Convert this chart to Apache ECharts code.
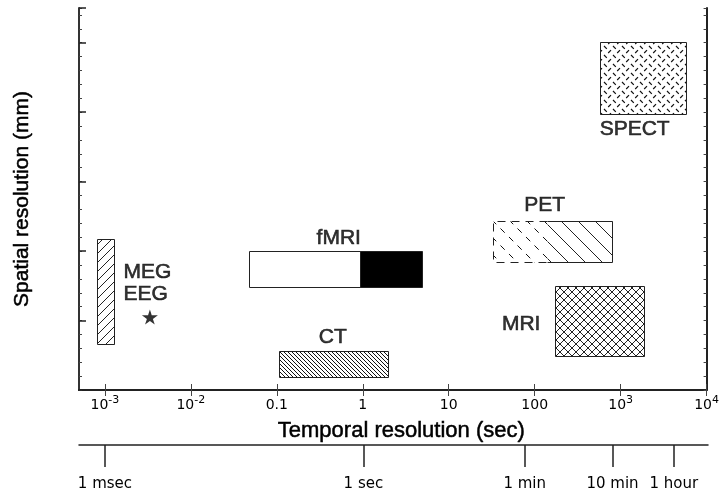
<!DOCTYPE html>
<html>
<head>
<meta charset="utf-8">
<script src="https://cdn.jsdelivr.net/npm/echarts@6/dist/echarts.min.js"></script>
<style>
html, body { margin: 0; padding: 0; background: #fff; }
#chart { width: 722px; height: 494px; }
</style>
</head>
<body>
<div id="chart"></div>
<script>
// 坐标轴刻度
const xTicks = [0.001, 0.01, 0.1, 1, 10, 100, 1000, 10000];
const xTickLabels = ['10{s|-3}', '10{s|-2}', '0.1', '1', '10', '100', '10{s|3}', '10{s|4}'];
const timeTicks = [0.001, 1, 74.5, 780, 4000];
const timeLabels = ['1 msec', '1 sec', '1 min', '10 min', '1 hour'];

// 各成像方法的范围（秒 / 空间分辨率）
const rectNames = ['MEG/EEG', 'fMRI', 'fMRI-BOLD', 'CT', 'PET-low', 'PET', 'MRI', 'SPECT'];
const rectX0 = [0.0008, 0.047, 0.92, 0.105, 32.5, 140, 174, 570];
const rectX1 = [0.00127, 0.92, 4.85, 1.95, 140, 785, 1866, 5800];
const rectY0 = [0.66, 1.49, 1.49, 0.19, 1.84, 1.84, 0.485, 3.97];
const rectY1 = [2.17, 2.0, 2.0, 0.56, 2.44, 2.44, 1.50, 5.01];

// 文字标注
const labelNames = ['MEG', 'EEG', 'fMRI', 'CT', 'PET', 'MRI', 'SPECT'];
const labelX = [0.00312, 0.00299, 0.526, 0.448, 131, 69.7, 1455];
const labelY = [1.69, 1.375, 2.18, 0.763, 2.66, 0.95, 3.75];

const starPoint = [0.00334, 1.05];

/**
 * 生成填充图案
 */
function makePattern(size, draw, color) {
    const c = document.createElement('canvas');
    c.width = size;
    c.height = size;
    const ctx = c.getContext('2d');
    ctx.fillStyle = '#fff';
    ctx.fillRect(0, 0, size, size);
    ctx.strokeStyle = color || '#000';
    ctx.lineWidth = 1;
    draw(ctx, size);
    return { image: c, repeat: 'repeat' };
}
function backLine(ctx, s) {
    ctx.beginPath();
    ctx.moveTo(-1, -1);
    ctx.lineTo(s + 1, s + 1);
    ctx.stroke();
}
function fwdLine(ctx, s) {
    ctx.beginPath();
    ctx.moveTo(-1, s + 1);
    ctx.lineTo(s + 1, -1);
    ctx.stroke();
}

const rectStyles = {
    'MEG/EEG': { fill: makePattern(9, fwdLine, '#222') },
    'fMRI': { fill: '#fff' },
    'fMRI-BOLD': { fill: '#000' },
    'CT': { fill: makePattern(4, backLine, '#111') },
    'PET-low': {
        fill: makePattern(17, function(ctx, s) { ctx.setLineDash([6, 6]); backLine(ctx, s); }, '#111'),
        edges: 'left'
    },
    'PET': { fill: makePattern(17, backLine, '#222'), edges: 'right' },
    'MRI': { fill: makePattern(8, function(ctx, s) { backLine(ctx, s); fwdLine(ctx, s); }, '#222') },
    'SPECT': {
        fill: makePattern(9, function(ctx) {
            ctx.lineWidth = 1.2;
            ctx.beginPath();
            ctx.moveTo(1, 1); ctx.lineTo(3.8, 3.8);
            ctx.moveTo(5.2, 8); ctx.lineTo(8, 5.2);
            ctx.stroke();
        }, '#111')
    }
};

function renderRect(params, api) {
    const name = rectNames[params.dataIndex];
    const st = rectStyles[name];
    const tl = api.coord([api.value(0), api.value(3)]);
    const br = api.coord([api.value(1), api.value(2)]);
    const x = Math.round(tl[0]) + 0.5, y = Math.round(tl[1]) + 0.5;
    const w = Math.round(br[0]) - Math.round(tl[0]);
    const h = Math.round(br[1]) - Math.round(tl[1]);
    const children = [{
        type: 'rect',
        shape: { x: x, y: y, width: w, height: h },
        style: { fill: st.fill, stroke: st.edges ? null : '#222', lineWidth: 1 }
    }];
    if (st.edges === 'left') {
        children.push({
            type: 'polyline',
            shape: { points: [[x + w, y], [x, y], [x, y + h], [x + w, y + h]] },
            style: { fill: null, stroke: '#222', lineWidth: 1, lineDash: [8, 6] }
        });
    } else if (st.edges === 'right') {
        children.push({
            type: 'polyline',
            shape: { points: [[x, y], [x + w, y], [x + w, y + h], [x, y + h]] },
            style: { fill: null, stroke: '#222', lineWidth: 1 }
        });
    }
    return { type: 'group', children: children };
}

function nearestIndex(list, v) {
    let best = 0, bestD = Infinity;
    list.forEach((t, i) => {
        const d = Math.abs(Math.log10(t) - Math.log10(v));
        if (d < bestD) { bestD = d; best = i; }
    });
    return best;
}

const chart = echarts.init(document.getElementById('chart'));

const axisColor = '#222';
const tickStyle = { color: '#444', width: 1 };
const textFont = 'Liberation Sans, Arial, sans-serif';

chart.setOption({
    animation: false,
    grid: [
        { left: 79, right: 14, top: 8, bottom: 104, show: false },
        { left: 79, right: 14, top: 440, height: 5, show: false }
    ],
    xAxis: [
        {
            type: 'log', logBase: 10, gridIndex: 0, position: 'bottom',
            min: 0.0005, max: 10000,
            axisLine: { show: true, lineStyle: { color: axisColor, width: 2 } },
            axisTick: { show: true, inside: true, length: 6, customValues: xTicks, lineStyle: tickStyle },
            axisLabel: {
                show: true, customValues: xTicks, margin: 5,
                fontFamily: 'DejaVu Sans', fontSize: 14, color: '#000', lineHeight: 20,
                formatter: function(v) { return xTickLabels[nearestIndex(xTicks, v)]; },
                rich: { s: { fontFamily: 'DejaVu Sans', fontSize: 11, verticalAlign: 'top', lineHeight: 18 } }
            },
            splitLine: { show: false },
            minorTick: { show: false },
            name: 'Temporal resolution (sec)', nameLocation: 'middle', nameGap: 22,
            nameTextStyle: {
                fontFamily: textFont, fontSize: 22, color: '#000', padding: [0, 0, 0, 17],
                textBorderColor: '#000', textBorderWidth: 0.5
            }
        },
        {
            type: 'log', logBase: 10, gridIndex: 0, position: 'top',
            min: 0.0005, max: 10000,
            axisLine: { show: true, lineStyle: { color: axisColor, width: 2 } },
            axisTick: { show: true, inside: true, length: 6, customValues: xTicks, lineStyle: tickStyle },
            axisLabel: { show: false },
            splitLine: { show: false }
        },
        {
            type: 'log', logBase: 10, gridIndex: 1, position: 'bottom',
            min: 0.0005, max: 10000,
            axisLine: { show: true, lineStyle: { color: axisColor, width: 1.5 } },
            axisTick: { show: true, inside: false, length: 22, customValues: timeTicks, lineStyle: { color: '#222', width: 1.5 } },
            axisLabel: {
                show: true, customValues: timeTicks, margin: 32,
                fontFamily: 'DejaVu Sans', fontSize: 15, color: '#000',
                formatter: function(v) { return timeLabels[nearestIndex(timeTicks, v)]; }
            },
            splitLine: { show: false }
        }
    ],
    yAxis: [
        {
            type: 'value', gridIndex: 0, position: 'left', min: 0, max: 5.5, interval: 0.2,
            axisLine: { show: true, lineStyle: { color: '#333', width: 2 } },
            axisTick: { show: true, inside: true, length: 3, lineStyle: tickStyle },
            axisLabel: { show: false },
            splitLine: { show: false },
            name: 'Spatial resolution (mm)', nameLocation: 'middle', nameGap: 46, nameRotate: 90,
            nameTextStyle: {
                fontFamily: textFont, fontSize: 21, color: '#000',
                textBorderColor: '#000', textBorderWidth: 0.5
            }
        },
        {
            type: 'value', gridIndex: 0, position: 'left', min: 0, max: 5.5, interval: 1,
            axisLine: { show: false },
            axisTick: { show: true, inside: true, length: 7, lineStyle: { color: '#222', width: 1.5 } },
            axisLabel: { show: false },
            splitLine: { show: false }
        },
        {
            type: 'value', gridIndex: 0, position: 'right', min: 0, max: 5.5, interval: 0.2,
            axisLine: { show: true, lineStyle: { color: axisColor, width: 2 } },
            axisTick: { show: true, inside: true, length: 3, lineStyle: tickStyle },
            axisLabel: { show: false },
            splitLine: { show: false }
        },
        { type: 'value', gridIndex: 1, show: false, min: 0, max: 1 }
    ],
    series: [
        {
            type: 'custom',
            xAxisIndex: 0, yAxisIndex: 0,
            renderItem: renderRect,
            encode: { x: [0, 1], y: [2, 3] },
            data: rectNames.map((n, i) => [rectX0[i], rectX1[i], rectY0[i], rectY1[i]]),
            silent: true
        },
        {
            type: 'scatter',
            xAxisIndex: 0, yAxisIndex: 0,
            symbolSize: 1,
            itemStyle: { color: 'transparent' },
            label: {
                show: true, position: 'inside', formatter: '{b}',
                fontFamily: textFont, fontSize: 21, color: '#000',
                textBorderColor: '#000', textBorderWidth: 0.6
            },
            data: labelNames.map((n, i) => ({ name: n, value: [labelX[i], labelY[i]] })),
            silent: true
        },
        {
            type: 'scatter',
            xAxisIndex: 0, yAxisIndex: 0,
            symbol: 'path://M50,0 L61,35 L98,35 L68,57 L79,91 L50,70 L21,91 L32,57 L2,35 L39,35 Z',
            symbolSize: [16, 15],
            itemStyle: { color: '#000' },
            data: [starPoint],
            silent: true
        }
    ]
});
</script>
</body>
</html>
